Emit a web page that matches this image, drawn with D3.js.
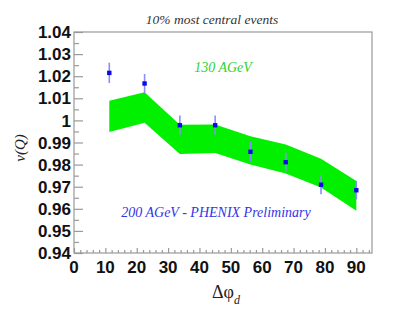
<!DOCTYPE html>
<html>
<head>
<meta charset="utf-8">
<script src="https://cdnjs.cloudflare.com/ajax/libs/d3/7.8.5/d3.min.js"></script>
<style>
  html, body { margin: 0; padding: 0; background: #fff; }
  svg { display: block; }
</style>
</head>
<body>
<div id="svg-container"></div>
<script>
/** Data */
const dphi = [11.25, 22.5, 33.75, 45, 56.25, 67.5, 78.75, 90];
// 200 AGeV points and their errors
const nuQ = [1.0215, 1.0167, 0.9978, 0.9978, 0.9858, 0.9811, 0.9709, 0.9684];
const nuQErr = [0.0046, 0.0043, 0.0044, 0.0044, 0.0045, 0.0044, 0.0043, 0.0042];
// 130 AGeV band, upper and lower edges
const bandHigh = [1.0089, 1.0127, 0.9980, 0.9982, 0.9928, 0.9891, 0.9827, 0.9726];
const bandLow = [0.9948, 0.9989, 0.9848, 0.9852, 0.9801, 0.9760, 0.9696, 0.9591];
const xTicks = [0, 10, 20, 30, 40, 50, 60, 70, 80, 90];
const yTicks = [0.94, 0.95, 0.96, 0.97, 0.98, 0.99, 1, 1.01, 1.02, 1.03, 1.04];

const svgProps = {
  width: 414,
  height: 311,
  margin: { top: 32, right: 42, bottom: 58, left: 74 }
};
svgProps.innerWidth = svgProps.width - svgProps.margin.left - svgProps.margin.right;
svgProps.innerHeight = svgProps.height - svgProps.margin.top - svgProps.margin.bottom;

const frameColor = "#999";
const serif = "'Liberation Serif', 'Times New Roman', serif";
const sans = "'Liberation Sans', Arial, sans-serif";

/** Scales */
const xScale = d3.scaleLinear()
  .domain([0, 95])
  .range([0, svgProps.innerWidth])
;
const yScale = d3.scaleLinear()
  .domain([0.94, 1.04])
  .range([svgProps.innerHeight, 0])
;

const svg = d3.select("#svg-container")
  .append("svg")
  .attr("width", svgProps.width)
  .attr("height", svgProps.height)
;

const plot = svg.append("g")
  .attr("transform", "translate(" + svgProps.margin.left + "," + svgProps.margin.top + ")")
;

/** Green band (130 AGeV) */
const bandData = dphi.map((d, i) => ({ x: d, hi: bandHigh[i], lo: bandLow[i] }));
plot.append("path")
  .datum(bandData)
  .attr("fill", "#00f000")
  .attr("d", d3.area()
    .x(d => xScale(d.x))
    .y0(d => yScale(d.lo))
    .y1(d => yScale(d.hi))
  )
;

/** Error bars and points (200 AGeV) */
const points = dphi.map((d, i) => ({ x: d, y: nuQ[i], e: nuQErr[i] }));
plot.selectAll("line.err")
  .data(points)
  .enter()
  .append("line")
  .attr("class", "err")
  .attr("x1", d => xScale(d.x))
  .attr("x2", d => xScale(d.x))
  .attr("y1", d => yScale(d.y - d.e))
  .attr("y2", d => yScale(d.y + d.e))
  .attr("stroke", "#8c8cff")
  .attr("stroke-width", 1.6)
;
plot.selectAll("rect.pt")
  .data(points)
  .enter()
  .append("rect")
  .attr("class", "pt")
  .attr("x", d => xScale(d.x) - 2.2)
  .attr("y", d => yScale(d.y) - 2.2)
  .attr("width", 4.4)
  .attr("height", 4.4)
  .attr("fill", "#0a0ae6")
;

/** Frame */
plot.append("rect")
  .attr("width", svgProps.innerWidth)
  .attr("height", svgProps.innerHeight)
  .attr("fill", "none")
  .attr("stroke", frameColor)
  .attr("stroke-width", 1.2)
;

/** Axes, ticks pointing into the frame */
const xMinor = d3.range(0, 95, 2).filter(d => d % 10);
const xAxisMinor = d3.axisTop(xScale).tickValues(xMinor).tickSize(3).tickFormat("");
const xAxis = d3.axisTop(xScale).tickValues(xTicks).tickSize(5).tickFormat("");
const yMinor = d3.range(0.945, 1.04, 0.01);
const yAxisMinor = d3.axisRight(yScale).tickValues(yMinor).tickSize(5).tickFormat("");
const yAxis = d3.axisRight(yScale).tickValues(yTicks).tickSize(9).tickFormat("");

function styleAxis(g) {
  g.select(".domain").remove();
  g.selectAll(".tick line").attr("stroke", frameColor).attr("stroke-width", 1.2);
}

plot.append("g").attr("transform", "translate(0," + svgProps.innerHeight + ")").call(xAxisMinor).call(styleAxis);
plot.append("g").attr("transform", "translate(0," + svgProps.innerHeight + ")").call(xAxis).call(styleAxis);
plot.append("g").call(yAxisMinor).call(styleAxis);
plot.append("g").call(yAxis).call(styleAxis);

/** Tick labels */
plot.selectAll("text.xlab")
  .data(xTicks)
  .enter()
  .append("text")
  .attr("class", "xlab")
  .attr("x", d => xScale(d))
  .attr("y", svgProps.innerHeight + 20)
  .attr("text-anchor", "middle")
  .style("font-family", sans)
  .style("font-weight", "bold")
  .style("font-size", "17px")
  .attr("fill", "#111")
  .text(d => d)
;
plot.selectAll("text.ylab")
  .data(yTicks)
  .enter()
  .append("text")
  .attr("class", "ylab")
  .attr("x", -3)
  .attr("y", d => yScale(d))
  .attr("dy", "0.36em")
  .attr("text-anchor", "end")
  .style("font-family", sans)
  .style("font-weight", "bold")
  .style("font-size", "17px")
  .attr("fill", "#111")
  .text(d => d3.format(".2f")(d).replace(/^1\.00$/, "1"))
;

/** Titles and annotations */
svg.append("text")
  .attr("x", 212)
  .attr("y", 24)
  .attr("text-anchor", "middle")
  .style("font-family", serif)
  .style("font-style", "italic")
  .style("font-size", "13.5px")
  .attr("fill", "#333")
  .text("10% most central events")
;
svg.append("text")
  .attr("x", 223)
  .attr("y", 72)
  .attr("text-anchor", "middle")
  .style("font-family", serif)
  .style("font-style", "italic")
  .style("font-size", "14px")
  .attr("fill", "#2ad42a")
  .text("130 AGeV")
;
svg.append("text")
  .attr("x", 216)
  .attr("y", 217)
  .attr("text-anchor", "middle")
  .style("font-family", serif)
  .style("font-style", "italic")
  .style("font-size", "14px")
  .attr("fill", "#3434e6")
  .text("200 AGeV - PHENIX Preliminary")
;

// x-axis title with subscript
const xTitle = svg.append("text")
  .attr("x", 226)
  .attr("y", 298)
  .attr("text-anchor", "middle")
  .style("font-family", serif)
  .style("font-size", "18px")
  .attr("fill", "#222")
;
xTitle.append("tspan").text("Δφ");
xTitle.append("tspan")
  .attr("dy", 6)
  .style("font-size", "12px")
  .style("font-style", "italic")
  .text("d")
;

// y-axis title
svg.append("text")
  .attr("transform", "translate(25,148) rotate(-90)")
  .attr("text-anchor", "middle")
  .style("font-family", serif)
  .style("font-style", "italic")
  .style("font-size", "15px")
  .attr("fill", "#222")
  .text("ν(Q)")
;
</script>
</body>
</html>
